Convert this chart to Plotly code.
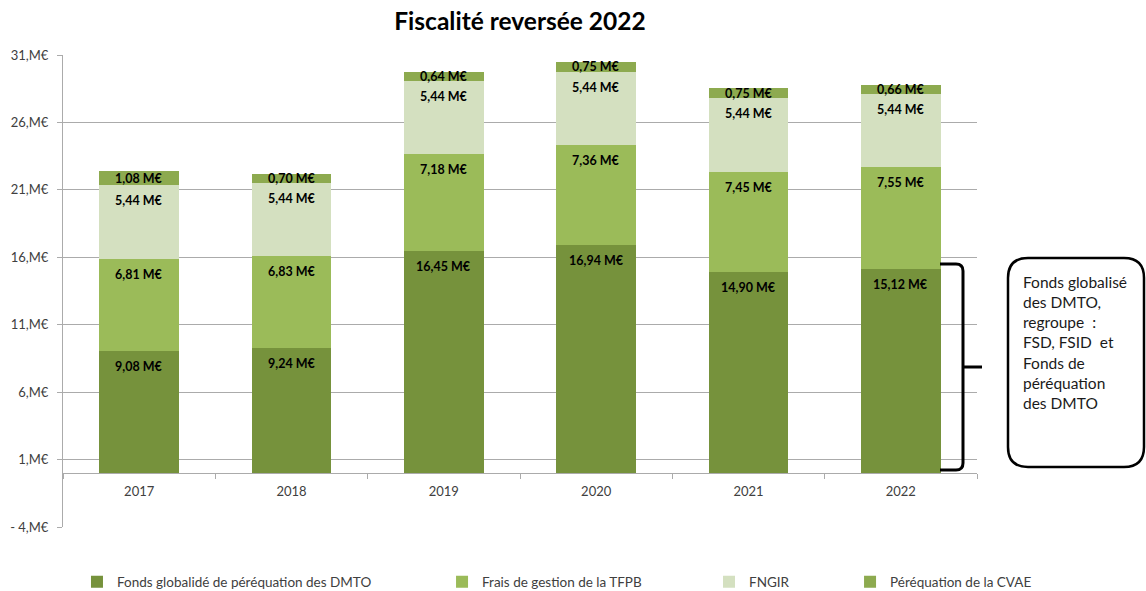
import plotly.graph_objects as go

# Fiscalité reversée, in millions of euros
years = ["2017", "2018", "2019", "2020", "2021", "2022"]
fonds_dmto = [9.08, 9.24, 16.45, 16.94, 14.90, 15.12]
frais_tfpb = [6.81, 6.83, 7.18, 7.36, 7.45, 7.55]
fngir = [5.44, 5.44, 5.44, 5.44, 5.44, 5.44]
cvae = [1.08, 0.70, 0.64, 0.75, 0.75, 0.66]

series_names = [
    "Fonds globalidé de péréquation des DMTO",
    "Frais de gestion de la TFPB",
    "FNGIR",
    "Péréquation de la CVAE",
]
y_ticks = [-4, 1, 6, 11, 16, 21, 26, 31]

FONT = "Lato"
W, H = 1146, 591
L, R, T, B = 63, 169, 55, 64
PW, PH = W - L - R, H - T - B


def eur(v):
    return f"{v:.2f}".replace(".", ",") + " M€"


def tick_label(v):
    return f"- {abs(v)},M€" if v < 0 else f"{v},M€"


def paper(px, py):
    # pixel position -> paper coordinates
    return (px - L) / PW, (H - B - py) / PH


def path(cmds):
    out = []
    for c in cmds:
        if isinstance(c, str):
            out.append(c)
        else:
            x, y = paper(*c)
            out.append(f"{x:.5f},{y:.5f}")
    return " ".join(out)


colors = ["#76923C", "#9BBB59", "#D4E0C0", "#8DAA4F"]
values = [fonds_dmto, frais_tfpb, fngir, cvae]
legend_ids = ["legend", "legend2", "legend3", "legend4"]
legend_x = [0.0153, 0.4147, 0.7068, 0.8611]

fig = go.Figure()
for name, vals, col, lg in zip(series_names, values, colors, legend_ids):
    fig.add_trace(go.Bar(
        x=years, y=vals, name=name,
        marker=dict(color=col, line=dict(width=0)),
        hoverinfo="skip", legend=lg,
    ))

# value labels: near the top of each segment, centred on the thin CVAE one
# (x given as the category index on the category axis)
label_font = dict(family=FONT, size=12.5, color="#000000", weight="bold")
base = [0.0] * len(years)
for s, vals in enumerate(values):
    for i, v in enumerate(vals):
        top = base[i] + v
        if s == len(values) - 1:
            fig.add_annotation(x=i, y=base[i] + v / 2, text=eur(v), showarrow=False,
                               yanchor="middle", font=label_font)
        else:
            fig.add_annotation(x=i, y=top, text=eur(v), showarrow=False,
                               yanchor="top", yshift=-6, font=label_font)
        base[i] = top

legend_common = dict(
    orientation="h", y=-0.1165, yanchor="middle", xanchor="left",
    font=dict(family=FONT, size=13.5, color="#404040"),
    bgcolor="rgba(0,0,0,0)", itemwidth=30,
)
layout_legends = {lg: dict(legend_common, x=lx) for lg, lx in zip(legend_ids, legend_x)}

grid = "#ABABAB"
fig.update_layout(
    width=W, height=H,
    margin=dict(l=L, r=R, t=T, b=B, autoexpand=False),
    paper_bgcolor="white", plot_bgcolor="white",
    barmode="stack", bargap=0.475,
    showlegend=True,
    title=dict(text="<b>Fiscalité reversée 2022</b>", x=0.5, xref="paper",
               xanchor="center", y=1 - 21 / H, yref="container", yanchor="middle",
               font=dict(family=FONT, size=24.5, color="#000000")),
    xaxis=dict(type="category", categoryorder="array", categoryarray=years,
               range=[-0.5, len(years) - 0.5],
               anchor="free", position=4 / 35,
               showline=True, linecolor=grid, linewidth=1,
               ticks="outside", tickson="boundaries", ticklen=5, tickcolor=grid,
               showgrid=False, ticklabelstandoff=6,
               tickfont=dict(family=FONT, size=13, color="#404040")),
    yaxis=dict(range=[-4, 31], tickvals=y_ticks,
               ticktext=[tick_label(v) for v in y_ticks],
               showgrid=True, gridcolor=grid, gridwidth=1, zeroline=False,
               showline=True, linecolor=grid, linewidth=1,
               ticks="outside", ticklen=5, tickcolor=grid, ticklabelstandoff=6,
               tickfont=dict(family=FONT, size=13, color="#404040")),
    **layout_legends,
)

# brace grouping the DMTO funds of the last bar
brace = path([
    "M", (940, 264), "L", (956, 264), "Q", (963, 264), (963, 271),
    "L", (963, 367), "L", (982, 367),
    "M", (963, 367), "L", (963, 463), "Q", (963, 470), (956, 470), "L", (940, 470),
])
fig.add_shape(type="path", path=brace, xref="paper", yref="paper",
              line=dict(color="#000000", width=3))

# rounded callout box
x0, x1, y0, y1, r = 1008, 1144, 258, 467, 20
box = path([
    "M", (x0 + r, y0), "L", (x1 - r, y0), "Q", (x1, y0), (x1, y0 + r),
    "L", (x1, y1 - r), "Q", (x1, y1), (x1 - r, y1),
    "L", (x0 + r, y1), "Q", (x0, y1), (x0, y1 - r),
    "L", (x0, y0 + r), "Q", (x0, y0), (x0 + r, y0), "Z",
])
fig.add_shape(type="path", path=box, xref="paper", yref="paper",
              line=dict(color="#000000", width=2.5), fillcolor="white")

tx, ty = paper(1021, 343)
fig.add_annotation(
    text="Fonds globalisé<br>des DMTO,<br>regroupe  :<br>FSD, FSID  et<br>Fonds de<br>péréquation<br>des DMTO",
    x=tx, y=ty, xref="paper", yref="paper", xanchor="left", yanchor="middle",
    align="left", showarrow=False,
    font=dict(family=FONT, size=15.5, color="#1A1A1A"),
)

fig.write_html("out.html")
